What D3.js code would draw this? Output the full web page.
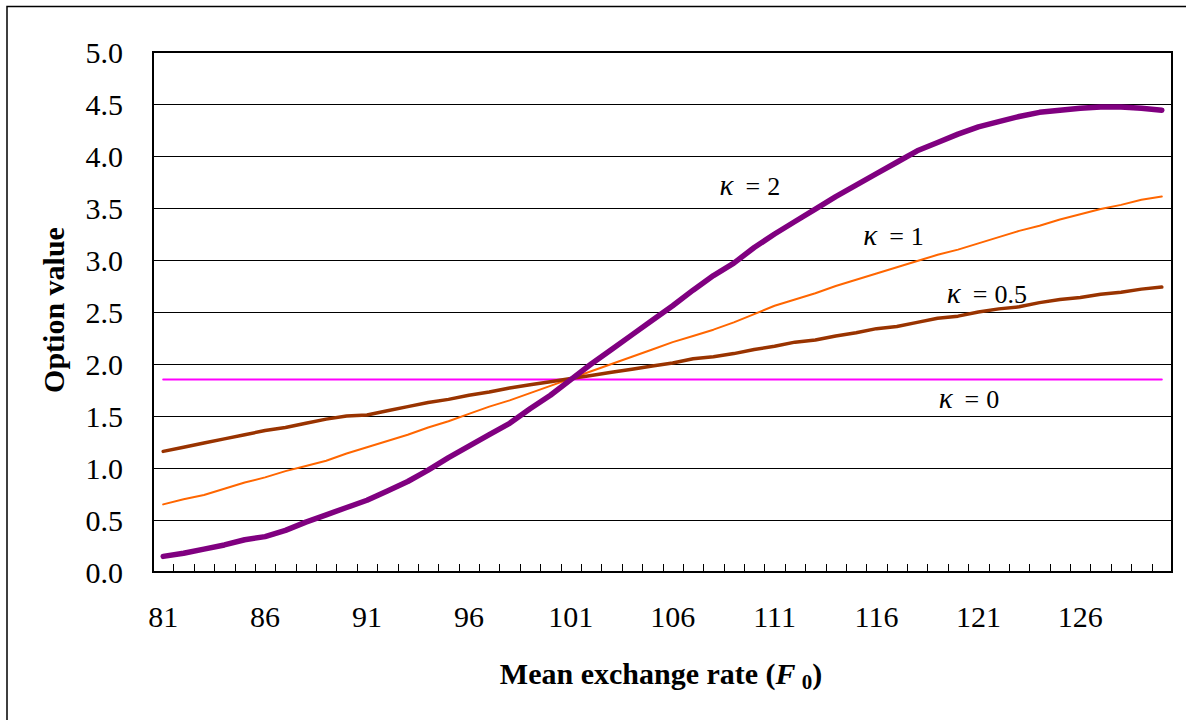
<!DOCTYPE html>
<html>
<head>
<meta charset="utf-8">
<script src="https://cdn.jsdelivr.net/npm/d3@7"></script>
<style>
  html, body { margin: 0; padding: 0; background: #fff; }
  svg { display: block; }
  text { font-family: "Liberation Serif", "Times New Roman", serif; fill: #000; }
</style>
</head>
<body>
<svg id="chart" width="1186" height="720"></svg>
<script>
// ---- Data ----
const categories = d3.range(81, 131); // mean exchange rate F0: 81 .. 130
const tickLabels = [81, 86, 91, 96, 101, 106, 111, 116, 121, 126];
const yTicks = [0, 0.5, 1, 1.5, 2, 2.5, 3, 3.5, 4, 4.5, 5];

const kappa0 = categories.map(() => 1.85);
const kappa05 = [1.16,1.20,1.24,1.28,1.32,1.36,1.39,1.43,1.47,1.50,
                 1.51,1.55,1.59,1.63,1.66,1.70,1.73,1.77,1.80,1.83,
                 1.86,1.89,1.92,1.95,1.98,2.01,2.05,2.07,2.10,2.14,
                 2.17,2.21,2.23,2.27,2.30,2.34,2.36,2.40,2.44,2.46,
                 2.50,2.53,2.55,2.59,2.62,2.64,2.67,2.69,2.72,2.74];
const kappa1 = [0.65,0.70,0.74,0.80,0.86,0.91,0.97,1.02,1.07,1.14,
                1.20,1.26,1.32,1.39,1.45,1.52,1.59,1.65,1.72,1.79,
                1.86,1.93,2.00,2.07,2.14,2.21,2.27,2.33,2.40,2.48,
                2.56,2.62,2.68,2.75,2.81,2.87,2.93,2.99,3.05,3.10,
                3.16,3.22,3.28,3.33,3.39,3.44,3.49,3.53,3.58,3.61];
const kappa2 = [0.15,0.18,0.22,0.26,0.31,0.34,0.40,0.48,0.55,0.62,
                0.69,0.78,0.87,0.98,1.10,1.21,1.32,1.43,1.57,1.70,
                1.85,2.00,2.14,2.28,2.42,2.56,2.71,2.85,2.97,3.12,
                3.25,3.37,3.49,3.61,3.72,3.83,3.94,4.05,4.13,4.21,
                4.28,4.33,4.38,4.42,4.44,4.46,4.47,4.47,4.46,4.44];

const seriesNames = ["κ = 0", "κ = 1", "κ = 0.5", "κ = 2"];
const seriesValues = [kappa0, kappa1, kappa05, kappa2];
const seriesColors = ["#FF00FF", "#FF6600", "#993300", "#800080"];
const seriesWidths = [2, 2, 3.5, 5.5];

// annotation anchors in data units (x = exchange rate, y = option value)
const labelText = ["2", "1", "0.5", "0"];
const labelX = [108.3, 115.35, 119.45, 119.05];
const labelY = [3.625, 3.14, 2.585, 1.575];

// ---- Layout ----
(function () {
const svg = d3.select("#chart");
const pL = 153, pR = 1172, pT = 52, pB = 572;
const FONT = "Liberation Serif";

// outer frame
svg.append("rect").attr("x", 7).attr("y", 6.5).attr("width", 1300).attr("height", 900)
  .attr("fill", "none").attr("stroke", "#000").attr("stroke-width", 1.5);

const x = d3.scaleBand().domain(categories).range([pL, pR]).padding(0);
const xc = c => x(c) + x.bandwidth() / 2;
const xLin = d3.scaleLinear().domain([80.5, 130.5]).range([pL, pR]);
const y = d3.scaleLinear().domain([0, 5]).range([pB, pT]);

// gridlines
svg.append("g").selectAll("line").data(yTicks.filter(v => v > 0 && v < 5)).join("line")
  .attr("x1", pL).attr("x2", pR)
  .attr("y1", d => Math.round(y(d)) + 0.5).attr("y2", d => Math.round(y(d)) + 0.5)
  .attr("stroke", "#000").attr("stroke-width", 1);

// y axis labels
const yAxis = d3.axisLeft(y).tickValues(yTicks).tickFormat(d3.format(".1f")).tickSize(0).tickPadding(30);
const gy = svg.append("g").attr("transform", `translate(${pL},0)`).call(yAxis);
gy.select(".domain").remove();
gy.selectAll("text").attr("font-size", 30).attr("font-family", FONT).attr("dy", "0.34em");

// y inner ticks
svg.append("g").selectAll("line").data(yTicks).join("line")
  .attr("x1", pL).attr("x2", pL + 7)
  .attr("y1", d => Math.round(y(d)) + 0.5).attr("y2", d => Math.round(y(d)) + 0.5)
  .attr("stroke", "#000").attr("stroke-width", 1);

// x axis labels
const xAxis = d3.axisBottom(x).tickValues(tickLabels).tickSize(0).tickPadding(34);
const gx = svg.append("g").attr("transform", `translate(0,${pB})`).call(xAxis);
gx.select(".domain").remove();
gx.selectAll("text").attr("font-size", 30).attr("font-family", FONT);

// x inner tick marks at category boundaries
svg.append("g").selectAll("line").data(categories.slice(1)).join("line")
  .attr("x1", d => Math.round(x(d)) + 0.5).attr("x2", d => Math.round(x(d)) + 0.5)
  .attr("y1", pB).attr("y2", pB - 8)
  .attr("stroke", "#000").attr("stroke-width", 1);

// plot border
svg.append("rect").attr("x", pL).attr("y", pT).attr("width", pR - pL).attr("height", pB - pT)
  .attr("fill", "none").attr("stroke", "#000").attr("stroke-width", 2);

// series lines
const line = d3.line().x((d, i) => xc(categories[i])).y(d => y(d)).curve(d3.curveLinear);
svg.append("g").selectAll("path").data(seriesValues).join("path")
  .attr("d", d => line(d))
  .attr("fill", "none")
  .attr("stroke", (d, i) => seriesColors[i])
  .attr("stroke-width", (d, i) => seriesWidths[i])
  .attr("stroke-linejoin", "round").attr("stroke-linecap", "round");

// series labels
const lg = svg.append("g");
labelText.forEach((t, i) => {
  const tx = lg.append("text").attr("x", xLin(labelX[i])).attr("y", y(labelY[i]))
    .attr("font-size", 26).attr("font-family", FONT);
  tx.append("tspan").attr("font-style", "italic").attr("font-size", 29).text("κ");
  tx.append("tspan").attr("dx", 12).text("=");
  tx.append("tspan").attr("dx", 7).text(t);
});

// axis titles
const xt = svg.append("text").attr("x", 661).attr("y", 684).attr("text-anchor", "middle")
  .attr("font-size", 30).attr("font-weight", "bold").attr("font-family", FONT);
xt.append("tspan").text("Mean exchange rate (");
xt.append("tspan").attr("font-style", "italic").text("F");
xt.append("tspan").attr("font-size", 21).attr("dx", 6).attr("dy", 5).text("0");
xt.append("tspan").attr("dy", -5).text(")");

svg.append("text").attr("transform", "translate(64,310) rotate(-90)").attr("text-anchor", "middle")
  .attr("font-size", 30).attr("font-weight", "bold").attr("font-family", FONT).text("Option value");
})();
</script>
</body>
</html>
